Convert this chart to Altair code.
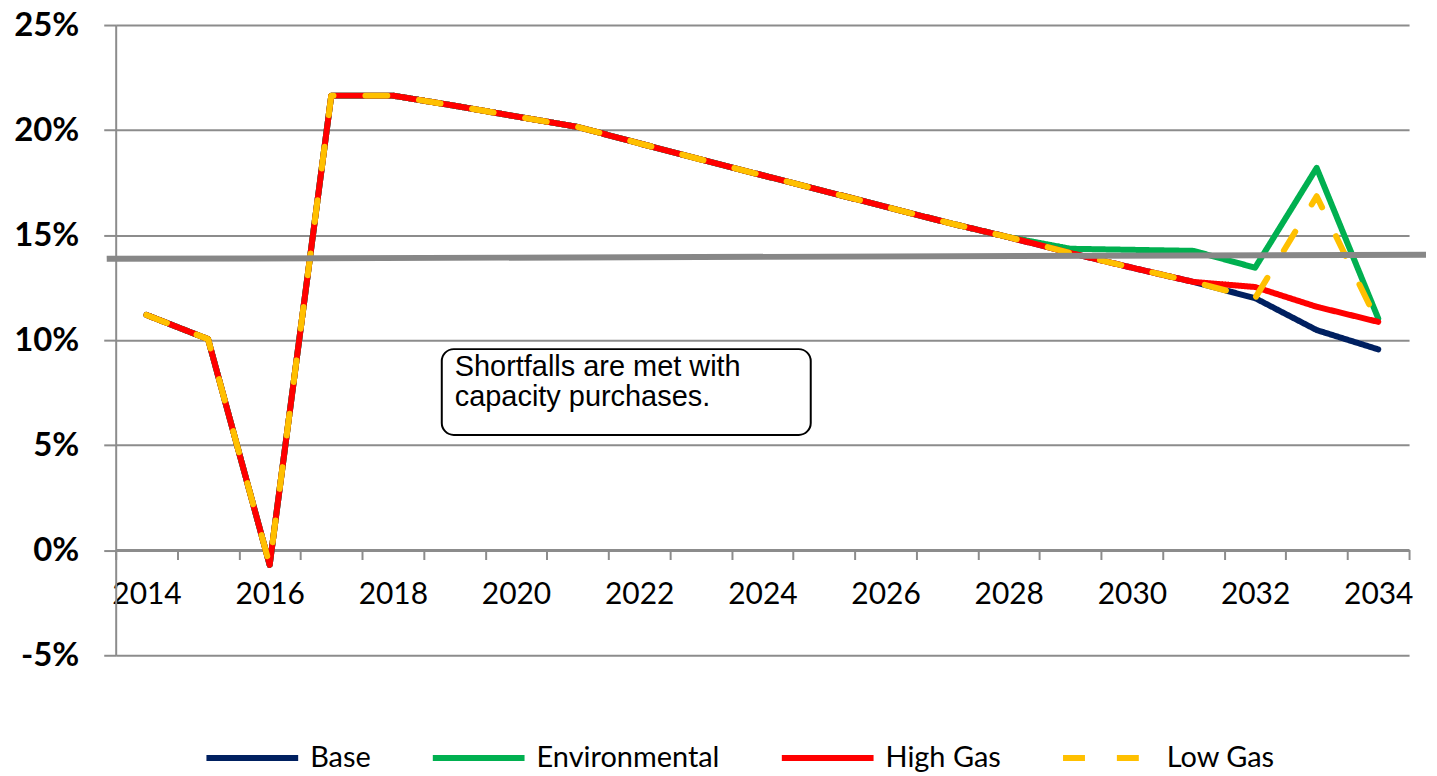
import altair as alt
import pandas as pd

# ---------------- data ----------------
years = list(range(2014, 2035))
base = [11.2, 10.05, -0.7, 21.64, 21.64, 21.16, 20.65, 20.15, 19.37, 18.6, 17.85,
        17.1, 16.35, 15.6, 14.9, 14.15, 13.45, 12.77, 12.0, 10.48, 9.56]
environmental = [11.2, 10.05, -0.7, 21.64, 21.64, 21.16, 20.65, 20.15, 19.37, 18.6, 17.85,
                 17.1, 16.35, 15.6, 14.9, 14.35, 14.3, 14.25, 13.45, 18.2, 11.03]
high_gas = [11.2, 10.05, -0.7, 21.64, 21.64, 21.16, 20.65, 20.15, 19.37, 18.6, 17.85,
            17.1, 16.35, 15.6, 14.9, 14.15, 13.45, 12.77, 12.53, 11.59, 10.87]
low_gas = [11.2, 10.05, -0.7, 21.64, 21.64, 21.16, 20.65, 20.15, 19.37, 18.6, 17.85,
           17.1, 16.35, 15.6, 14.9, 14.15, 13.45, 12.77, 12.0, 16.85, 10.8]
series_names = ["Base", "Environmental", "High Gas", "Low Gas"]
series_colors = ["#002060", "#00B050", "#FF0000", "#FFC000"]
series_dashes = [[1, 0], [1, 0], [1, 0], [22, 32]]
target_line = [13.87, 14.06]
y_ticks = [-5, 0, 5, 10, 15, 20, 25]
note_lines = ["Shortfalls are met with", "capacity purchases."]

rows = []
for name, vals in zip(series_names, [base, environmental, high_gas, low_gas]):
    for yr, v in zip(years, vals):
        rows.append({"Year": yr, "Value": v, "Series": name})
df = pd.DataFrame(rows)

W, H = 1297, 632
GRID = "#8c8c8c"

x_scale = alt.Scale(type="band", paddingInner=0, paddingOuter=0)
y_scale = alt.Scale(domain=[-5, 25], nice=False, zero=False)

x_axis = alt.Axis(
    title=None, offset=-106, tickBand="extent", labelAngle=0,
    labelExpr="datum.value % 2 == 0 ? datum.label : ''",
    labelFont="Lato", labelFontSize=30, labelColor="#000000",
    labelPadding=20, tickSize=10, grid=False, labelOverlap=False,
)
y_axis = alt.Axis(
    title=None, values=y_ticks, labelExpr="datum.value + '%'",
    labelFont="Lato", labelFontWeight="bold", labelFontSize=33, labelColor="#000000",
    tickSize=12, labelPadding=25, grid=True,
)

legend = alt.Legend(
    title=None, orient="none", legendX=88, legendY=686,
    direction="horizontal", columns=4,
    symbolType="stroke", symbolSize=8464, symbolStrokeWidth=6,
    labelFont="Lato", labelFontSize=29, labelColor="#000000",
    labelOffset=9, columnPadding=50, labelLimit=400,
)
color_enc = alt.Color("Series:N", scale=alt.Scale(domain=series_names, range=series_colors),
                      legend=legend)
dash_enc = alt.StrokeDash("Series:N", scale=alt.Scale(domain=series_names, range=series_dashes),
                          legend=legend)

layers = []
for name in series_names:
    layers.append(
        alt.Chart(df)
        .transform_filter(alt.datum.Series == name)
        .mark_line(strokeWidth=6, strokeCap="round", strokeJoin="round")
        .encode(
            x=alt.X("Year:O", scale=x_scale, axis=x_axis),
            y=alt.Y("Value:Q", scale=y_scale, axis=y_axis),
            color=color_enc,
            strokeDash=dash_enc,
        )
    )

target = (
    alt.Chart(pd.DataFrame({"a": [target_line[0]], "b": [target_line[1]]}))
    .mark_rule(color="#878787", strokeWidth=6, clip=False)
    .encode(
        x=alt.value(-9), x2=alt.value(W + 17),
        y=alt.Y("a:Q", scale=y_scale, axis=y_axis), y2="b:Q",
    )
)

note_box = (
    alt.Chart(pd.DataFrame({"t": [0]}))
    .mark_rect(fill="white", stroke="black", strokeWidth=2, cornerRadius=12)
    .encode(x=alt.value(327), x2=alt.value(697), y=alt.value(325), y2=alt.value(411))
)
note_text = (
    alt.Chart(pd.DataFrame({"t": [0]}))
    .mark_text(align="left", baseline="alphabetic", font="Liberation Sans",
               fontSize=29, lineHeight=30, color="black")
    .encode(x=alt.value(340), y=alt.value(352), text=alt.value(note_lines))
)

chart = (
    alt.layer(*layers, note_box, note_text, target)
    .properties(width=W, height=H, padding={"left": 5, "top": 0, "right": 0, "bottom": 5})
    .configure_view(stroke=None)
    .configure_axis(
        domainColor=GRID, domainWidth=2, tickColor=GRID, tickWidth=2,
        gridColor=GRID, gridWidth=2, gridOpacity=1,
    )
)

chart.save("out.html", embed_options={"renderer": "svg", "actions": False})
